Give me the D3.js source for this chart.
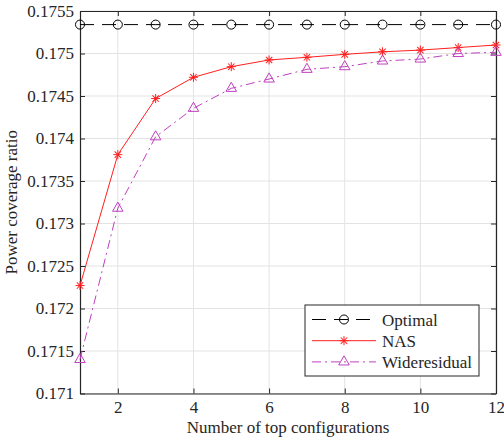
<!DOCTYPE html>
<html>
<head>
<meta charset="utf-8">
<script src="https://cdn.jsdelivr.net/npm/d3@7"></script>
<style>
  body { margin: 0; background: #fff; }
  text { font-family: "Liberation Serif", "Times New Roman", serif; fill: #262626; }
</style>
</head>
<body>
<div id="chart"></div>
<script>
let xValues = [1, 2, 3, 4, 5, 6, 7, 8, 9, 10, 11, 12];
let optimal = [0.17534, 0.17534, 0.17534, 0.17534, 0.17534, 0.17534, 0.17534, 0.17534, 0.17534, 0.17534, 0.17534, 0.17534];
let nas = [0.17227, 0.17381, 0.17447, 0.17472, 0.174845, 0.174924, 0.174955, 0.17499, 0.17502, 0.17504, 0.17507, 0.1751];
let wideresidual = [0.1714, 0.17318, 0.17402, 0.174355, 0.17459, 0.1747, 0.174814, 0.174845, 0.174912, 0.174935, 0.175, 0.175014];
let xTicks = [2, 4, 6, 8, 10, 12];
let yTicks = [0.171, 0.1715, 0.172, 0.1725, 0.173, 0.1735, 0.174, 0.1745, 0.175, 0.1755];
let seriesNames = ['Optimal', 'NAS', 'Wideresidual'];

let margin = { top: 11, right: 8, bottom: 49.5, left: 80 },
  width = 504 - margin.left - margin.right,
  height = 443 - margin.top - margin.bottom;

let svg = d3.select('#chart').
append('svg').
attr('width', 504).
attr('height', 443).
append('g').
attr('transform', 'translate(' + margin.left + ',' + margin.top + ')');

let x = d3.scaleLinear().domain([1, 12]).range([0, width]);
let y = d3.scaleLinear().domain([0.171, 0.1755]).range([height, 0]);

// grid
svg.selectAll('.gx').data(xTicks).enter().append('line').
attr('x1', d => x(d)).attr('x2', d => x(d)).
attr('y1', 0).attr('y2', height).
attr('stroke', '#e3e3e3').attr('stroke-width', 1);
svg.selectAll('.gy').data(yTicks).enter().append('line').
attr('x1', 0).attr('x2', width).
attr('y1', d => y(d)).attr('y2', d => y(d)).
attr('stroke', '#e3e3e3').attr('stroke-width', 1);

// axes
let xAxis = svg.append('g').attr('transform', 'translate(0,' + height + ')').
call(d3.axisBottom(x).tickValues(xTicks).tickSizeInner(-5).tickSizeOuter(0).tickPadding(7.5));
let yAxis = svg.append('g').
call(d3.axisLeft(y).tickValues(yTicks).tickFormat(d => d3.format('')(+d.toFixed(4))).tickSizeInner(-5).tickSizeOuter(0).tickPadding(6));
let topAxis = svg.append('g').call(d3.axisTop(x).tickValues(xTicks).tickSizeInner(-5).tickSizeOuter(0).tickFormat(''));
let rightAxis = svg.append('g').attr('transform', 'translate(' + width + ',0)').
call(d3.axisRight(y).tickValues(yTicks).tickSizeInner(-5).tickSizeOuter(0).tickFormat(''));

[xAxis, yAxis, topAxis, rightAxis].forEach(function (g) {
  g.select('.domain').attr('stroke', '#262626').attr('stroke-width', 1.2);
  g.selectAll('.tick line').attr('stroke', '#262626');
  g.selectAll('.tick text').style('font-size', '17px').attr('fill', '#262626').
  style('font-family', '"Liberation Serif", serif');
});

// labels
svg.append('text').
attr('x', width / 2).attr('y', height + 39.5).
attr('text-anchor', 'middle').style('font-size', '17px').
style('font-family', '"Liberation Serif", serif').
text('Number of top configurations');
svg.append('text').
attr('transform', 'translate(-63,' + height / 2 + ') rotate(-90)').
attr('text-anchor', 'middle').style('font-size', '17px').
style('font-family', '"Liberation Serif", serif').
text('Power coverage ratio');

let line = d3.line().x(d => x(d[0])).y(d => y(d[1]));

let series = [
  { name: seriesNames[0], values: optimal, color: '#000000', dash: '14,8', marker: 'circle' },
  { name: seriesNames[1], values: nas, color: '#ff1f1f', dash: null, marker: 'star' },
  { name: seriesNames[2], values: wideresidual, color: '#bf40bf', dash: '9,4,2,4', marker: 'triangle' }];

let circleSym = d3.symbol().type(d3.symbolCircle).size(64);
let triSym = d3.symbol().type(d3.symbolTriangle).size(48);

function drawMarker(g, s, cx, cy) {
  if (s.marker === 'circle') {
    g.append('path').attr('d', circleSym()).
    attr('transform', 'translate(' + cx + ',' + cy + ')').
    attr('fill', 'none').attr('stroke', s.color).attr('stroke-width', 1);
  } else if (s.marker === 'triangle') {
    g.append('path').attr('d', triSym()).
    attr('transform', 'translate(' + cx + ',' + cy + ')').
    attr('fill', 'none').attr('stroke', s.color).attr('stroke-width', 1);
  } else {
    let r = 4.5;
    [0, 45, 90, 135].forEach(function (a) {
      g.append('line').
      attr('x1', -r).attr('x2', r).attr('y1', 0).attr('y2', 0).
      attr('transform', 'translate(' + cx + ',' + cy + ') rotate(' + a + ')').
      attr('stroke', s.color).attr('stroke-width', 1);
    });
  }
}

let plot = svg.append('g');
series.forEach(function (s) {
  let pts = xValues.map((d, i) => [d, s.values[i]]);
  plot.append('path').datum(pts).
  attr('d', line).
  attr('fill', 'none').
  attr('stroke', s.color).
  attr('stroke-width', 1).
  attr('stroke-dasharray', s.dash);
  let mg = plot.append('g');
  pts.forEach(p => drawMarker(mg, s, x(p[0]), y(p[1])));
});

// legend
let legend = svg.append('g').attr('transform', 'translate(' + (305 - margin.left) + ',' + (305 - margin.top) + ')');
legend.append('rect').attr('width', 174).attr('height', 71).
attr('fill', '#fff').attr('stroke', '#262626').attr('stroke-width', 1);
series.forEach(function (s, i) {
  let ly = 14.5 + i * 21.2;
  legend.append('line').attr('x1', 7).attr('x2', 71).attr('y1', ly).attr('y2', ly).
  attr('stroke', s.color).attr('stroke-width', 1).attr('stroke-dasharray', s.dash);
  drawMarker(legend, s, 39, ly);
  legend.append('text').attr('x', 77).attr('y', ly + 6).
  style('font-size', '17px').text(s.name);
});
</script>
</body>
</html>
